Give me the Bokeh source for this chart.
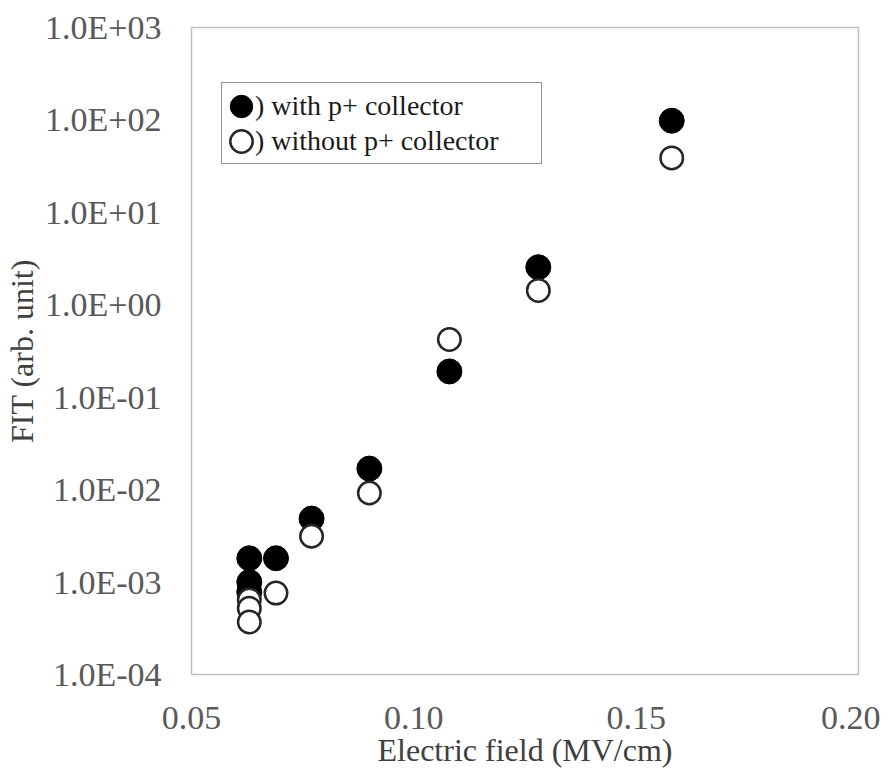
from bokeh.plotting import figure
from bokeh.models import FixedTicker, CustomJSTickFormatter, Range1d
from bokeh.embed import file_html
from bokeh.resources import INLINE

# ---- data ----
with_x = [0.063, 0.063, 0.063, 0.069, 0.077, 0.090, 0.108, 0.128, 0.158]
with_y = [0.00181, 0.00100, 0.00078, 0.00181, 0.00486, 0.0169, 0.190, 2.55, 98.0]

without_x = [0.063, 0.063, 0.063, 0.069, 0.077, 0.090, 0.108, 0.128, 0.158]
without_y = [0.00064, 0.00052, 0.00037, 0.00076, 0.00313, 0.0092, 0.421, 1.43, 38.8]

x_ticks = [0.05, 0.10, 0.15, 0.20]
x_tick_labels = ["0.05", "0.10", "0.15", "0.20"]
y_ticks = [1e-4, 1e-3, 1e-2, 1e-1, 1e0, 1e1, 1e2, 1e3]
y_tick_labels = ["1.0E-04", "1.0E-03", "1.0E-02", "1.0E-01",
                 "1.0E+00", "1.0E+01", "1.0E+02", "1.0E+03"]

series_labels = [") with p+ collector", ") without p+ collector"]
x_title = "Electric field (MV/cm)"
y_title = "FIT (arb. unit)"

FONT = "Liberation Serif"

p = figure(width=880, height=771, output_backend="svg", toolbar_location=None,
           y_axis_type="log",
           x_range=Range1d(x_ticks[0], x_ticks[-1]),
           y_range=Range1d(y_ticks[0], y_ticks[-1]),
           min_border_left=191, min_border_right=22,
           min_border_top=27, min_border_bottom=97)

p.background_fill_color = "white"
p.border_fill_color = "white"
p.outline_line_color = "#bfbfbf"
p.outline_line_width = 1.5
p.grid.visible = False

r1 = p.ellipse(with_x, with_y, width=25, height=25,
               width_units="screen", height_units="screen",
               fill_color="black", line_color="black", line_width=1,
               legend_label=series_labels[0])
r2 = p.ellipse(without_x, without_y, width=22.5, height=22.5,
               width_units="screen", height_units="screen",
               fill_color="white", line_color="#262626", line_width=2.5,
               legend_label=series_labels[1])

fmt_code = """
let best = 0, bd = Infinity;
for (let i = 0; i < tvals.length; i++) {
  const d = Math.abs(tvals[i] - tick) / Math.abs(tvals[i]);
  if (d < bd) { bd = d; best = i; }
}
return bd < 1e-6 ? tlabels[best] : '';
"""

p.xaxis.ticker = FixedTicker(ticks=x_ticks)
p.xaxis.formatter = CustomJSTickFormatter(args=dict(tvals=x_ticks, tlabels=x_tick_labels), code=fmt_code)
p.yaxis.ticker = FixedTicker(ticks=y_ticks)
p.yaxis.formatter = CustomJSTickFormatter(args=dict(tvals=y_ticks, tlabels=y_tick_labels), code=fmt_code)

for ax in (p.xaxis, p.yaxis):
    ax.axis_line_color = None
    ax.major_tick_line_color = None
    ax.minor_tick_line_color = None
    ax.major_tick_out = 0
    ax.major_tick_in = 0
    ax.minor_tick_out = 0
    ax.minor_tick_in = 0
    ax.major_label_text_font = FONT
    ax.major_label_text_font_size = "34px"
    ax.major_label_text_color = "#595959"
    ax.axis_label_text_font = FONT
    ax.axis_label_text_font_size = "32px"
    ax.axis_label_text_font_style = "normal"
    ax.axis_label_text_color = "#404040"

p.xaxis.axis_label = x_title
p.yaxis.axis_label = y_title
p.yaxis.major_label_standoff = 30
p.xaxis.major_label_standoff = 32
p.xaxis.axis_label_standoff = 0
p.yaxis.axis_label_standoff = 2

lg = p.legend[0]
lg.location = (30, 510)
lg.glyph_width = 28
lg.glyph_height = 28
lg.label_height = 35
lg.spacing = 0
lg.padding = 5
lg.margin = 0
lg.label_standoff = 0
lg.label_width = 281
lg.label_text_font = FONT
lg.label_text_font_size = "28px"
lg.label_text_color = "#1a1a1a"
lg.border_line_color = "#262626"
lg.border_line_width = 1.5
lg.background_fill_color = "white"
lg.background_fill_alpha = 1.0

open("out.html", "w").write(file_html(p, INLINE))
